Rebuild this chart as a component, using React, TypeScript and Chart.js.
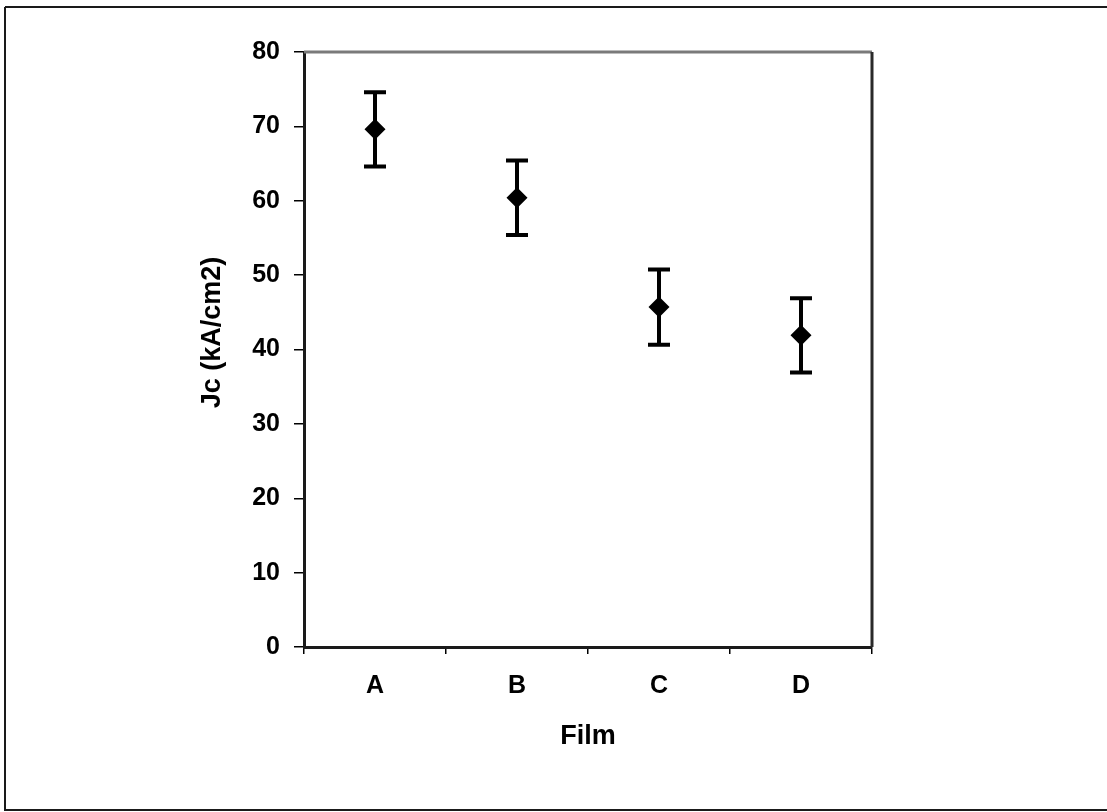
import React, { useEffect, useRef } from "react";
import { Chart, registerables } from "chart.js";

Chart.register(...registerables);

const categories = ["A", "B", "C", "D"];
const jcValues = [69.6, 60.4, 45.7, 41.9];
const jcErrors = [5.0, 5.0, 5.05, 5.0];
const yTicks = [0, 10, 20, 30, 40, 50, 60, 70, 80];
const xTitle = "Film";
const yTitle = "Jc (kA/cm2)";

const FONT = "'Liberation Sans', Arial, Helvetica, sans-serif";

const framePlugin = {
  id: "frame",
  beforeDraw(chart: any) {
    const { ctx, width, height } = chart;
    ctx.save();
    ctx.fillStyle = "#ffffff";
    ctx.fillRect(0, 0, width, height);
    ctx.strokeStyle = "#1a1a1a";
    ctx.lineWidth = 2;
    ctx.beginPath();
    ctx.moveTo(5, 7);
    ctx.lineTo(width + 5, 7);
    ctx.moveTo(5, 7);
    ctx.lineTo(5, 810);
    ctx.lineTo(width + 5, 810);
    ctx.stroke();
    ctx.restore();
  },
  afterDraw(chart: any) {
    const { ctx, chartArea } = chart;
    const { left, right, top, bottom } = chartArea;
    ctx.save();
    ctx.strokeStyle = "#7a7a7a";
    ctx.lineWidth = 3;
    ctx.beginPath();
    ctx.moveTo(left, top);
    ctx.lineTo(right, top);
    ctx.stroke();
    ctx.strokeStyle = "#2a2a2a";
    ctx.beginPath();
    ctx.moveTo(right, top);
    ctx.lineTo(right, bottom);
    ctx.stroke();
    ctx.fillStyle = "#000000";
    ctx.font = `bold 27px ${FONT}`;
    ctx.textAlign = "center";
    ctx.textBaseline = "middle";
    ctx.translate(left - 91, (top + bottom) / 2 - 17);
    ctx.rotate(-Math.PI / 2);
    ctx.fillText(yTitle, 0, 0);
    ctx.restore();
  },
};

const errorBarPlugin = {
  id: "errorBars",
  beforeDatasetsDraw(chart: any) {
    const { ctx, scales } = chart;
    const xs = scales.x;
    const ys = scales.y;
    ctx.save();
    ctx.strokeStyle = "#000000";
    ctx.lineWidth = 4;
    ctx.lineCap = "butt";
    jcValues.forEach((v, i) => {
      const x = xs.getPixelForValue(i);
      const yHi = ys.getPixelForValue(v + jcErrors[i]);
      const yLo = ys.getPixelForValue(v - jcErrors[i]);
      ctx.beginPath();
      ctx.moveTo(x, yHi);
      ctx.lineTo(x, yLo);
      ctx.moveTo(x - 11, yHi);
      ctx.lineTo(x + 11, yHi);
      ctx.moveTo(x - 11, yLo);
      ctx.lineTo(x + 11, yLo);
      ctx.stroke();
    });
    ctx.restore();
  },
};

export default function App() {
  const canvasRef = useRef<HTMLCanvasElement | null>(null);

  useEffect(() => {
    document.body.style.margin = "0";
    const canvas = canvasRef.current;
    if (!canvas) return;
    const chart = new Chart(canvas, {
      type: "line",
      data: {
        labels: categories,
        datasets: [
          {
            data: jcValues,
            showLine: false,
            pointStyle: "rectRot",
            pointRadius: 10.5,
            pointBackgroundColor: "#000000",
            pointBorderColor: "#000000",
            pointBorderWidth: 0,
          },
        ],
      },
      options: {
        animation: false,
        responsive: false,
        devicePixelRatio: 1,
        layout: { padding: { left: 194, right: 235, top: 52, bottom: 5 } },
        plugins: {
          legend: { display: false },
          tooltip: { enabled: false },
          title: { display: false },
        },
        scales: {
          x: {
            type: "category",
            offset: true,
            grid: {
              offset: true,
              drawOnChartArea: false,
              drawTicks: true,
              tickLength: 7,
              color: "#000000",
              lineWidth: 1.5,
            },
            border: { display: true, color: "#1a1a1a", width: 3 },
            ticks: {
              color: "#000000",
              padding: 17,
              font: { family: FONT, size: 25, weight: "bold" },
            },
            title: {
              display: true,
              text: xTitle,
              color: "#000000",
              font: { family: FONT, size: 27, weight: "bold" },
              padding: { top: 0, bottom: 54 },
            },
            afterFit(scale: any) {
              scale.height = 160;
            },
          },
          y: {
            type: "linear",
            min: 0,
            max: 80,
            afterBuildTicks(scale: any) {
              scale.ticks = yTicks.map((v) => ({ value: v }));
            },
            grid: {
              drawOnChartArea: false,
              drawTicks: true,
              tickLength: 10,
              color: "#000000",
              lineWidth: 1.5,
            },
            border: { display: true, color: "#1a1a1a", width: 3 },
            ticks: {
              color: "#000000",
              padding: 14,
              font: { family: FONT, size: 25, weight: "bold" },
            },
            title: { display: false },
            afterFit(scale: any) {
              scale.width = 110;
            },
          },
        },
      },
      plugins: [framePlugin, errorBarPlugin],
    });
    return () => chart.destroy();
  }, []);

  return (
    <div style={{ width: 1107, height: 812 }}>
      <canvas ref={canvasRef} width={1107} height={812} style={{ display: "block" }} />
    </div>
  );
}
